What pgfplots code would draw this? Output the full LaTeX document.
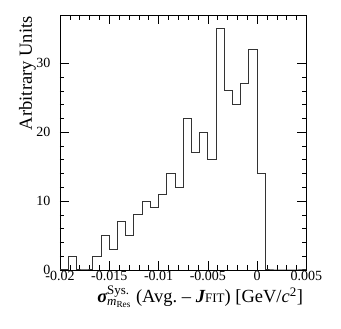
\documentclass[border=0pt]{standalone}
\usepackage{amsmath}
\usepackage{fontspec}
\setmainfont{Liberation Serif}
\usepackage{pgfplots}
\pgfplotsset{compat=1.18}

% bin counts, 30 bins of width 0.025/30 from -0.02 to 0.005 (left edges)
\pgfplotstableread{
x y
-0.020000 0
-0.019167 2
-0.018333 0
-0.017500 0
-0.016667 2
-0.015833 5
-0.015000 3
-0.014167 7
-0.013333 5
-0.012500 8
-0.011667 10
-0.010833 9
-0.010000 11
-0.009167 14
-0.008333 12
-0.007500 22
-0.006667 17
-0.005833 20
-0.005000 16
-0.004167 35
-0.003333 26
-0.002500 24
-0.001667 27
-0.000833 32
0.000000 14
0.000833 0
0.001667 0
0.002500 0
0.003333 0
0.004167 0
0.005000 0
}\histdata

\begin{document}
\begin{tikzpicture}
\begin{axis}[
  scale only axis,
  width=246.5pt, height=255pt,
  xmin=-0.02, xmax=0.005, ymin=0, ymax=37,
  xtick={-0.02,-0.015,-0.01,-0.005,0,0.005},
  xticklabels={-0.02,-0.015,-0.01,-0.005,0,0.005},
  ytick={0,10,20,30}, yticklabels={0,10,20,30},
  minor x tick num=4, minor y tick num=4,
  scaled x ticks=false,
  tick align=inside, tick pos=both,
  major tick length=9pt, minor tick length=4.5pt,
  every tick/.style={black, line width=0.6pt},
  axis line style={black, line width=0.8pt},
  tick label style={font=\fontsize{14}{14}\selectfont},
  xticklabel style={yshift=2pt},
  yticklabel style={xshift=-6pt},
  xlabel={{\bfseries\itshape σ}$^{\text{\normalfont Sys.}}_{\text{\itshape m}_{\text{\normalfont Res}}}$ (Avg.~-- {\bfseries\itshape J}{\fontsize{13}{13}\selectfont FIT}) [GeV/{\itshape c}$^{\text{\normalfont 2}}$]},
  ylabel={Arbitrary Units},
  label style={font=\fontsize{18.5}{20}\selectfont},
  xlabel style={at={(rel axis cs:1,-0.129)}, anchor=base east},
  ylabel style={at={(rel axis cs:-0.114,1.008)}, anchor=base east},
]
\addplot[const plot mark left, black!80, line width=1pt] table[x=x,y=y] {\histdata};
\end{axis}
\path (-60pt,-59pt) rectangle (281pt,270pt);
\end{tikzpicture}
\end{document}
